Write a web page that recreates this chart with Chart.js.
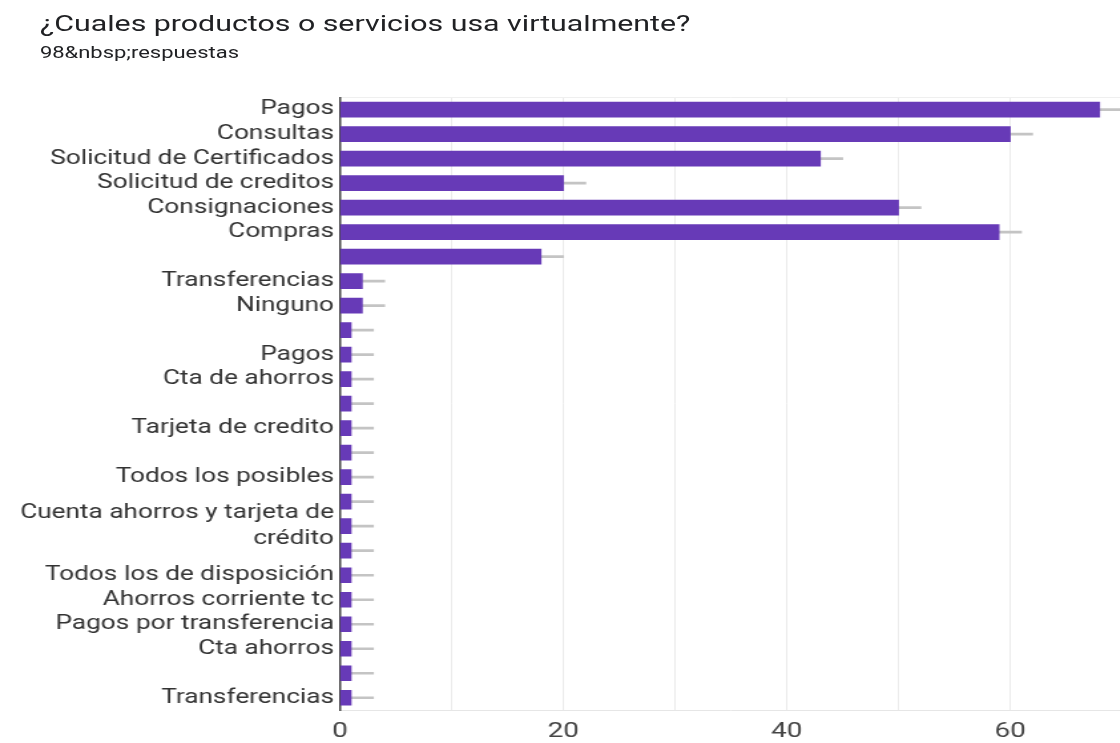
<!DOCTYPE html>
<html>
<head>
<meta charset="utf-8">
<script src="https://cdn.jsdelivr.net/npm/chart.js@4"></script>
<style>
  body { margin: 0; background: #fff; overflow: hidden; width: 1120px; height: 743px; font-family: Roboto, Arial, sans-serif; }
  /* the reference screenshot is stretched sideways, so the whole page is too */
  #page { position: absolute; left: 0; top: 0; width: 880px; height: 743px; transform: scaleX(1.33); transform-origin: 0 0; }
  #title { position: absolute; left: 30px; top: 10px; font-size: 22.8px; color: #202124; white-space: nowrap; }
  #sub { position: absolute; left: 30px; top: 43px; font-size: 16.5px; color: #202124; white-space: nowrap; }
  #wrap { position: absolute; left: 0; top: 80px; }
</style>
</head>
<body>
<div id="page">
  <div id="title">¿Cuales productos o servicios usa virtualmente?</div>
  <div id="sub"></div>
  <div id="wrap"><canvas id="chart" width="880" height="663"></canvas></div>
</div>
<script>
document.getElementById("sub").textContent = "98&nbsp;respuestas";

// answers as shown on the chart (blank = label hidden in the original)
const categories = [
  "Pagos",
  "Consultas",
  "Solicitud de Certificados",
  "Solicitud de creditos",
  "Consignaciones",
  "Compras",
  "",
  "Transferencias",
  "Ninguno",
  "",
  "Pagos",
  "Cta de ahorros",
  "",
  "Tarjeta de credito",
  "",
  "Todos los posibles",
  "",
  ["Cuenta ahorros y tarjeta de", "crédito"],
  "",
  "Todos los de disposición",
  "Ahorros corriente tc",
  "Pagos por transferencia",
  "Cta ahorros",
  "",
  "Transferencias",
];
const counts = [68, 60, 43, 20, 50, 59, 18, 2, 2, 1, 1, 1, 1, 1, 1, 1, 1, 1, 1, 1, 1, 1, 1, 1, 1];
const whisker = [2, 2, 2, 2, 2, 2, 2, 2, 2, 2, 2, 2, 2, 2, 2, 2, 2, 2, 2, 2, 2, 2, 2, 2, 2];

const ctx = document.getElementById("chart");

new Chart(ctx, {
  type: "bar",
  data: {
    labels: categories,
    datasets: [
      {
        label: "Respuestas",
        data: counts,
        backgroundColor: "#673ab7",
        barThickness: 15,
      },
      {
        label: "extra",
        data: whisker,
        backgroundColor: "#c4c4c4",
        barThickness: 2,
      },
    ],
  },
  options: {
    indexAxis: "y",
    responsive: false,
    animation: false,
    layout: {
      padding: { top: 15, right: 36.4, left: 0, bottom: 0 },
    },
    scales: {
      x: {
        stacked: true,
        min: 0,
        max: 70,
        grid: { color: "#ebebeb", drawTicks: false },
        border: { color: "#e6e6e6" },
        ticks: {
          stepSize: 10,
          padding: 9,
          color: "#444",
          font: { family: "Roboto, Arial, sans-serif", size: 21 },
          callback: (v) => (v % 20 === 0 ? v : ""),
        },
        afterFit: (scale) => { scale.height = 33; },
      },
      // only gives the faint frame line along the top
      xTop: {
        type: "linear",
        position: "top",
        min: 0,
        max: 70,
        grid: { display: false },
        border: { color: "#efefef" },
        ticks: { display: false },
        afterFit: (scale) => { scale.height = 0; },
      },
      y: {
        stacked: true,
        grid: { display: false, drawTicks: false },
        border: { color: "#444", width: 1.5 },
        ticks: {
          padding: 4.5,
          color: "#333",
          autoSkip: false,
          font: { family: "Roboto, Arial, sans-serif", size: 19.7, lineHeight: 1.3 },
        },
        afterFit: (scale) => { scale.width = 255.6; },
      },
    },
    plugins: {
      legend: { display: false },
      tooltip: { enabled: false },
    },
  },
});
</script>
</body>
</html>
